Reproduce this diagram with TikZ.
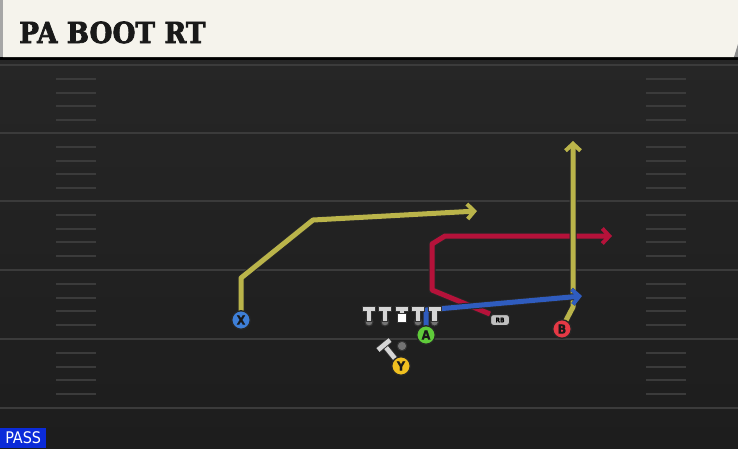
\documentclass[tikz,border=0pt]{standalone}
\usepackage{fontspec}
\setmainfont{DejaVu Sans}
\newfontfamily\titlefont[BoldFeatures={FakeBold=2.5}]{DejaVu Serif}
\newfontfamily\condfont[BoldFeatures={FakeBold=1}]{DejaVu Sans Condensed}
\usetikzlibrary{arrows.meta,positioning,shapes}
\definecolor{field}{HTML}{262626}
\definecolor{fieldlow}{HTML}{1D1D1D}
\definecolor{yardline}{HTML}{3B3B3B}
\definecolor{cream}{HTML}{F5F3EC}
\definecolor{olive}{HTML}{BAB44A}
\definecolor{crimson}{HTML}{B5123A}
\definecolor{royal}{HTML}{2F5CBF}
\definecolor{passblue}{HTML}{0B2BD9}
\definecolor{xblue}{HTML}{3E7FD8}
\definecolor{agreen}{HTML}{5FCB3A}
\definecolor{bred}{HTML}{E53945}
\definecolor{ygold}{HTML}{F0C020}
\definecolor{lineman}{HTML}{D6D6D6}
\tikzstyle{player}=[circle,draw=black!85,line width=1.3pt,minimum size=18.5pt,inner sep=0pt,
font=\condfont\bfseries\fontsize{12.5}{12.5}\selectfont,text=black!90]
\tikzstyle{route}=[line width=5pt,line join=round,
preaction={draw=black!85,line width=7pt}]
\tikzstyle{routetip}=[-{Straight Barb[length=7pt,width=15pt,line width=4pt]}]
\tikzstyle{hash}=[yardline,line width=1.6pt]
\tikzstyle{yard}=[yardline,line width=2pt]
\tikzstyle{lmbody}=[lineman,draw=black!80,line width=1pt]
\tikzstyle{rbbox}=[rounded corners=3pt,fill=black!25,draw=black!85,line width=1pt,inner sep=0pt,
minimum width=19pt,minimum height=11pt,font=\condfont\bfseries\fontsize{6.5}{6.5}\selectfont]

\begin{document}
\begin{tikzpicture}[x=1pt,y=-1pt]
            % FIELD PART

            \useasboundingbox (0,0) rectangle (738,448);
            \fill[top color=field,bottom color=fieldlow] (0,58) rectangle (738,448);
            \foreach \y in {65,133,201,270,339,408}
                \draw[yard] (0,\y) -- (738,\y);
            \foreach \y in {65,133,201,270,339}
                \foreach \d in {14,28,41,55}{
                    \draw[hash] (56,\y+\d) -- (96,\y+\d);
                    \draw[hash] (646,\y+\d) -- (686,\y+\d);
                }

            % TITLE PART

            \fill[black] (0,56) rectangle (738,60);
            \fill[cream] (3,0) -- (738,0) -- (738,44) -- (734,57) -- (3,57) -- cycle;
            \fill[black!35] (0,0) rectangle (3,57);
            \fill[black!45] (734,57) -- (738,44) -- (738,57) -- cycle;
            \node[anchor=base west,inner sep=0pt,text=black!90,xscale=0.91,
                font=\titlefont\bfseries\fontsize{29}{29}\selectfont] (title) at (19,43) {PA BOOT RT};

            \node[fill=passblue,text=white,anchor=south west,inner sep=0pt,minimum width=46pt,
                minimum height=20pt,font=\condfont\fontsize{16}{16}\selectfont] (pass) at (0,448) {PASS};

            % ROUTES PART

            \node[rbbox] (rb) at (500,320) {RB};
            \coordinate (xend) at (477,211);
            \coordinate (aend) at (582,296);
            \coordinate (rbend) at (612,236);
            \coordinate (bend) at (573,141);

            \draw[route,olive,routetip] (241,320) -- (241,278) -- (313,220) -- (xend);
            \draw[route,crimson,routetip] (rb.north west) -- (432,290) -- (432,244) -- (445,236) -- (rbend);
            \draw[route,olive,routetip] (562,328) -- (573,307) -- (bend);
            \draw[route,royal,routetip] (426,330) -- (426,310) -- (aend);
            \node[rbbox] at (rb) {RB};

            % LINE PART

            \foreach \x/\n in {369/lt,385/lg,418/rg,434.5/rt}{
                \coordinate (\n) at (\x,322);
                \fill[black!55,draw=black!80,line width=1pt] (\n) circle (4);
                \fill[lmbody]
                    ([shift={(-6.5,-16)}]\n) -- ++(13,0) -- ++(0,5.5) -- ++(-3.8,0) -- ++(0,10)
                    -- ++(-5.4,0) -- ++(0,-10) -- ++(-3.8,0) -- cycle;
            }
            \coordinate (c) at (402,322);
            \fill[white,draw=black!80,line width=1pt] ([shift={(-4.5,-9)}]c) rectangle ++(9,9.5);
            \fill[lmbody]
                ([shift={(-6.5,-16)}]c) -- ++(13,0) -- ++(0,5.5) -- ++(-3.8,0) -- ++(0,2)
                -- ++(-5.4,0) -- ++(0,-2) -- ++(-3.8,0) -- cycle;

            % BACKFIELD PART

            \node[circle,fill=black!55,draw=black!80,line width=1pt,inner sep=0pt,
                minimum size=9.5pt] (qb) at (402,346) {};

            \coordinate (yblk) at (384,345);
            \draw[lineman,line width=4.6pt,preaction={draw=black!80,line width=6.4pt}]
                (401,366) -- (yblk);
            \draw[lineman,line width=4.6pt,preaction={draw=black!80,line width=6.4pt}]
                ([shift={(-6,5)}]yblk) -- ([shift={(6,-5)}]yblk);

            % RECEIVERS PART

            \node[player,fill=xblue] (x) at (241,320) {X};
            \node[player,fill=agreen] (a) at (426,335) {A};
            \node[player,fill=bred] (b) at (562,329) {B};
            \node[player,fill=ygold] (y) at (401,366) {Y};

\end{tikzpicture}
\end{document}
